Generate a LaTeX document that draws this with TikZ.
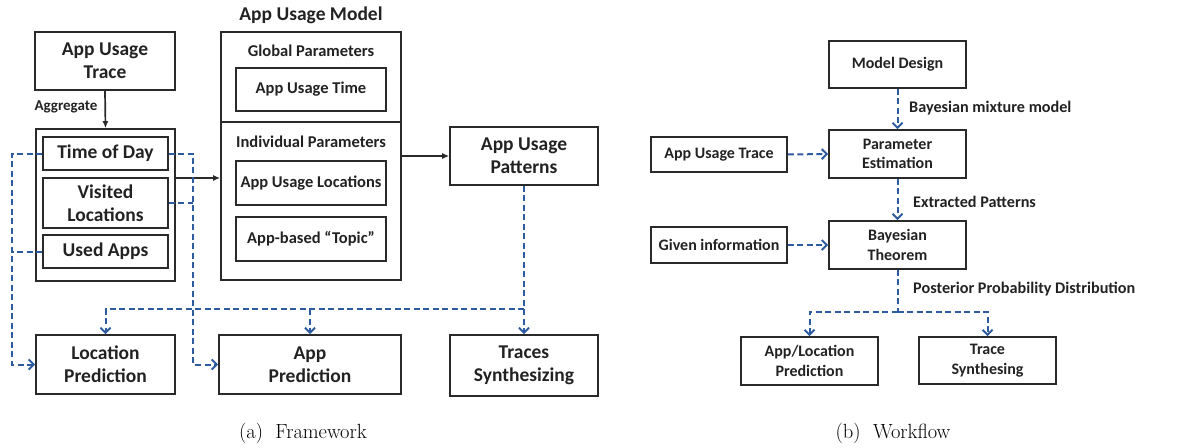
\documentclass[tikz,border=0pt]{standalone}
\usepackage{fontspec}
\setsansfont{Carlito}
\usetikzlibrary{arrows.meta,calc}
\definecolor{bblue}{HTML}{2D5BA0}
\definecolor{txt}{HTML}{222222}
\definecolor{edge}{HTML}{2A2A2A}
\tikzset{
  box/.style={draw=edge, line width=1.7pt, inner sep=0pt, align=center, text=txt,
    font=\sffamily\bfseries\fontsize{19.5}{23}\selectfont},
  sbox/.style={box, font=\sffamily\bfseries\fontsize{16.5}{20}\selectfont},
  rbox/.style={box, font=\sffamily\bfseries\fontsize{16}{19.5}\selectfont},
  lbl/.style={text=txt, inner sep=0pt, font=\sffamily\bfseries\fontsize{16.5}{20}\selectfont},
  rlbl/.style={lbl, font=\sffamily\bfseries\fontsize{16.2}{19.5}\selectfont},
  blk/.style={draw=edge, line width=1.7pt, -{Latex[length=7pt,width=6pt]}},
  bl/.style={draw=bblue, line width=2pt, dash pattern=on 6pt off 3.5pt},
  bla/.style={bl, -{Straight Barb[length=5pt,width=10pt,line width=2pt]}},
  captext/.style={text=black, inner sep=0pt, font=\fontsize{20.5}{24}\selectfont}
}
\begin{document}
\begin{tikzpicture}[x=1pt,y=-1pt]
\useasboundingbox (0,0) rectangle (1204,447);
% ---------- (a) Framework ----------
\node[box, minimum width=140, minimum height=58] (aut) at (105,61) {App Usage\\Trace};
\node[lbl, font=\sffamily\bfseries\fontsize{19.5}{23}\selectfont] (mtitle) at (311,15) {App Usage Model};
\node[box, minimum width=180, minimum height=248] (model) at (311,156) {};
\draw[edge, line width=1.7pt] (221,122) coordinate (dl) -- (401,122) coordinate (dr);
\node[lbl] (glob) at (311,51) {Global Parameters};
\node[sbox, minimum width=150, minimum height=43] (time) at (311,89.5) {App Usage Time};
\node[lbl] (indiv) at (311,142) {Individual Parameters};
\node[sbox, minimum width=150, minimum height=44] (locs) at (311,183) {App Usage Locations};
\node[sbox, minimum width=150, minimum height=44] (topic) at (311,239) {App-based “Topic”};
\node[box, minimum width=139, minimum height=152] (cont) at (105.5,205) {};
\node[box, minimum width=125, minimum height=33] (tod) at (105.5,153.5) {Time of Day};
\node[box, minimum width=125, minimum height=50] (vis) at (105.5,203) {Visited\\Locations};
\node[box, minimum width=125, minimum height=33] (used) at (105.5,251.5) {Used Apps};
\node[box, minimum width=148, minimum height=58] (pat) at (524,156) {App Usage\\Patterns};
\node[box, minimum width=148, minimum height=61] (syn) at (524,365.5) {Traces\\Synthesizing};
\node[box, minimum width=139, minimum height=59] (lp) at (105.5,364.5) {Location\\Prediction};
\node[box, minimum width=182, minimum height=59] (ap) at (310,364.5) {App\\Prediction};
\node[lbl, font=\sffamily\bfseries\fontsize{15}{18}\selectfont] (agg) at (66,107) {Aggregate};

\draw[blk] (aut.south) -- (cont.north);
\draw[blk] ([yshift=27pt]cont.east) coordinate (c1) -- (model.west |- c1);
\draw[blk] (model.east |- pat.west) -- (pat.west);

\coordinate (lx) at (12,0);
\coordinate (rx) at (193,0);
\draw[bla] (tod.west) -- (lx |- tod.west) |- (lp.west);
\draw[bl] (used.west) -- (lx |- used.west);
\draw[bla] (tod.east) -- (rx |- tod.east) |- (ap.west);
\draw[bl] (vis.east) -- (rx |- vis.east);
\draw[bla] (pat.south) -- (syn.north);
\coordinate (j) at (524,309);
\draw[bla] (j) -| (lp.north);
\draw[bla] (ap.north |- j) -- (ap.north);

\node[captext] (capa) at (303,433) {(a)\ \ Framework};

% ---------- (b) Workflow ----------
\node[rbox, minimum width=137, minimum height=47] (md) at (897.5,64.5) {Model Design};
\node[rbox, minimum width=137, minimum height=48] (pe) at (897.5,154) {Parameter\\Estimation};
\node[rbox, minimum width=137, minimum height=48] (bt) at (897.5,245) {Bayesian\\Theorem};
\node[rbox, minimum width=136, minimum height=35] (aut2) at (719,154.5) {App Usage Trace};
\node[rbox, minimum width=136, minimum height=36] (gi) at (719,245) {Given information};
\node[rbox, minimum width=137, minimum height=48] (alp) at (809.5,361) {App/Location\\Prediction};
\node[rbox, minimum width=137, minimum height=47] (ts) at (987.5,360.5) {Trace\\Synthesing};
\node[rlbl, anchor=west] (l1) at (909,108) {Bayesian mixture model};
\node[rlbl, anchor=west] (l2) at (913,202) {Extracted Patterns};
\node[rlbl, anchor=west] (l3) at (913,289) {Posterior Probability Distribution};

\draw[bla] (md.south) -- (pe.north);
\draw[bla] (pe.south) -- (bt.north);
\draw[bla] (aut2.east) -- (pe.west);
\draw[bla] (gi.east) -- (bt.west);
\draw[bl] (bt.south) -- ++(0,42) coordinate (k);
\draw[bla] (k) -| (alp.north);
\draw[bla] (k) -| (ts.north);

\node[captext] (capb) at (893,433) {(b)\ \ Workflow};
\end{tikzpicture}
\end{document}
